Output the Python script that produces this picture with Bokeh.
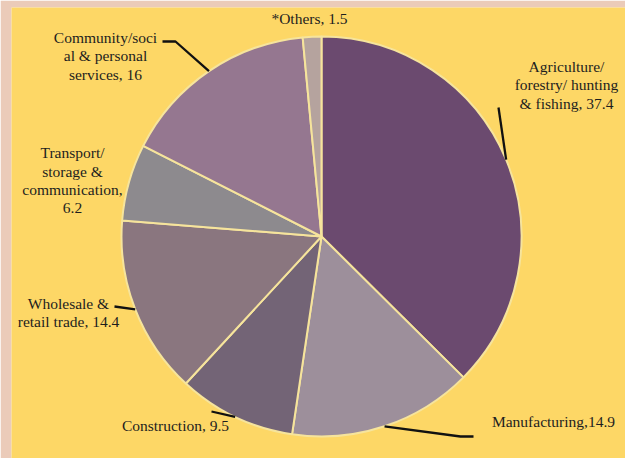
import numpy as np
from bokeh.plotting import figure
from bokeh.models import Range1d, ColumnDataSource
from bokeh.core.properties import value
from bokeh.embed import file_html
from bokeh.resources import INLINE

# ---- data ----
categories = ["Agriculture/ forestry/ hunting & fishing", "Manufacturing", "Construction",
              "Wholesale & retail trade", "Transport/ storage & communication",
              "Community/social & personal services", "*Others"]
shares = [37.4, 14.9, 9.5, 14.4, 6.2, 16, 1.5]
label_lines = [["Agriculture/", "forestry/ hunting", "& fishing, "],
               ["Manufacturing,"],
               ["Construction, "],
               ["Wholesale &", "retail trade, "],
               ["Transport/", "storage &", "communication,", ""],
               ["Community/soci", "al & personal", "services, "],
               ["*Others, "]]
colors = ["#6B4A6F", "#9D8F9B", "#736476", "#8A767F", "#8D8A8E", "#957790", "#B5A39E"]

# ---- layout (image pixel coordinates, y down) ----
IMG_H = 458
CX, CY, R = 321, 236, 200
label_centers = [(566, 84), (553, 421), (175, 425), (68, 312), (72, 180), (105, 55), (309, 18)]
leader_elbows = [[(498, 107)], [(460, 436), (473, 436)], [(211, 411)], [(114, 306)], [],
                 [(175, 41), (162, 41)], []]
LINE_H = 18.5

def iy(y):
    return IMG_H - y

vals = np.array(shares, dtype=float)
total = vals.sum()
cum = np.concatenate([[0], np.cumsum(vals)])
start = np.pi / 2 - 2 * np.pi * cum[:-1] / total
end = np.pi / 2 - 2 * np.pi * cum[1:] / total
mid = (start + end) / 2

p = figure(width=625, height=458, x_range=Range1d(11, 625), y_range=Range1d(0, 451),
           x_axis_type=None, y_axis_type=None, output_backend="svg", toolbar_location=None,
           min_border_left=11, min_border_right=0, min_border_top=7, min_border_bottom=0,
           background_fill_color="#FDD766", border_fill_color="#EBCBB9")
p.grid.visible = False
p.outline_line_color = None

src = ColumnDataSource(dict(start=start, end=end, color=colors, cat=categories))
p.wedge(x=CX, y=iy(CY), radius=R, start_angle="start", end_angle="end", direction="clock",
        fill_color="color", line_color="#F6E49C", line_width=2, source=src)

# leader lines
xs, ys = [], []
for m, elbows in zip(mid, leader_elbows):
    if not elbows:
        continue
    lx = [CX + R * np.cos(m)] + [e[0] for e in elbows]
    ly = [iy(CY) + R * np.sin(m)] + [iy(e[1]) for e in elbows]
    xs.append(lx)
    ys.append(ly)
p.multi_line(xs=xs, ys=ys, line_color="#111111", line_width=2.3)

# labels
tx, ty, tt = [], [], []
for lines, v, (lx, ly) in zip(label_lines, shares, label_centers):
    lines = list(lines)
    lines[-1] = lines[-1] + f"{v:g}"
    n = len(lines)
    for i, t in enumerate(lines):
        tx.append(lx)
        ty.append(iy(ly + (i - (n - 1) / 2) * LINE_H))
        tt.append(t)
p.text(x=tx, y=ty, text=tt, text_align="center", text_baseline="middle",
       text_font=value("Liberation Serif"), text_font_size="15.5px", text_color="#1E1E1E")

open("out.html", "w").write(file_html(p, INLINE))
